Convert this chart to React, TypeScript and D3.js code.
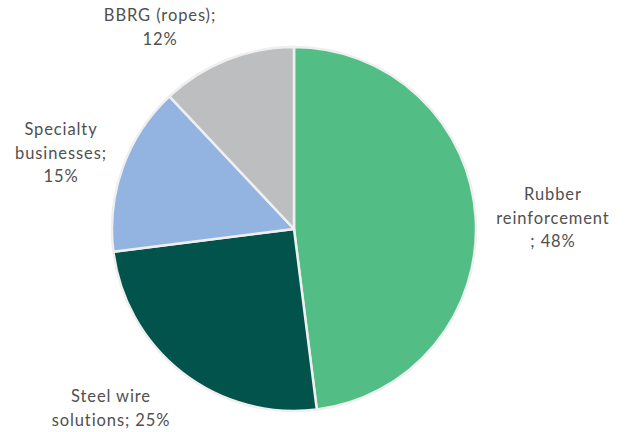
import React from "react";
import * as d3 from "d3";

const categories = ["Rubber reinforcement", "Steel wire solutions", "Specialty businesses", "BBRG (ropes)"];
const values = [48, 25, 15, 12];
const colors = ["#52BD85", "#02534B", "#93B3E0", "#BDBEC0"];
const labelLines = [
  ["Rubber", "reinforcement", "; 48%"],
  ["Steel wire", "solutions; 25%"],
  ["Specialty", "businesses;", "15%"],
  ["BBRG (ropes);", "12%"],
];
const labelPos: [number, number][] = [
  [553, 200],
  [111, 402],
  [61, 135],
  [160, 21],
];

export default function App() {
  const width = 625, height = 432;
  const cx = 294, cy = 229, r = 182;
  const pie = d3.pie<number>().sort(null).value((d) => d);
  const arcs = pie(values);
  const arc = d3.arc<d3.PieArcDatum<number>>().innerRadius(0).outerRadius(r);
  return (
    <svg width={width} height={height} style={{ position: "absolute", left: 0, top: 0 }}>
      <rect width={width} height={height} fill="#fff" />
      <g transform={`translate(${cx},${cy})`}>
        {arcs.map((a, i) => (
          <path key={categories[i]} d={arc(a) ?? ""} fill={colors[i]} stroke="#EFEFEF" strokeWidth={2.5} strokeLinejoin="round" />
        ))}
      </g>
      {labelLines.map((lines, i) => (
        <text key={i} textAnchor="middle" fontFamily="Lato, 'Open Sans', sans-serif" fontSize={16.5} fill="#505050" letterSpacing={0.9}>
          {lines.map((l, j) => (
            <tspan key={j} x={labelPos[i][0]} y={labelPos[i][1] + j * 23.5}>{l}</tspan>
          ))}
        </text>
      ))}
    </svg>
  );
}
